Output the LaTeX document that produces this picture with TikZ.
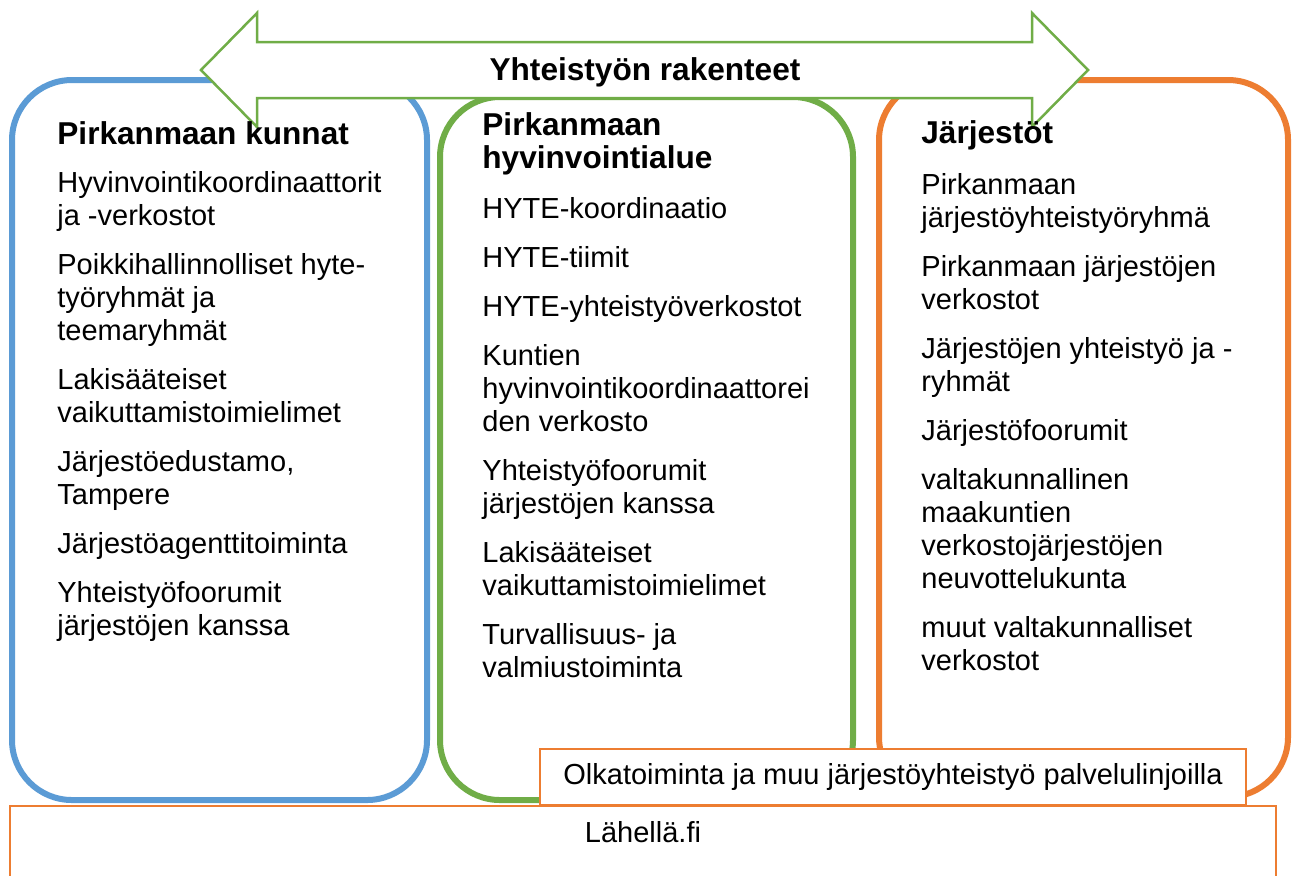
\documentclass[tikz,border=0pt]{standalone}
\usepackage{fontspec}
\setmainfont{Liberation Sans}
\usetikzlibrary{positioning}

\definecolor{kuntablue}{HTML}{5B9BD5}
\definecolor{aluegreen}{HTML}{70AD47}
\definecolor{jarjorange}{HTML}{ED7D31}
\newcommand{\colstrut}{\rule[-5pt]{0pt}{20pt}}

\begin{document}
\begin{tikzpicture}[x=0.5pt,y=-0.5pt]
\tikzstyle{every node}=[inner sep=0pt]
\tikzstyle{column}=[rounded corners=30pt, line width=3pt, fill=white]
\tikzstyle{title}=[anchor=north west, align=left, font=\fontsize{15.8}{16.5}\selectfont\bfseries]
\tikzstyle{items}=[align=left, font=\fontsize{14.5}{16.5}\selectfont]
\tikzstyle{thinbox}=[draw=jarjorange, line width=1.25pt, fill=white]

\clip (0,0) rectangle (1293,875);

% the three groups
\draw[column, draw=kuntablue] (12,80) rectangle (427,800);
\draw[column, draw=aluegreen] (440,97) rectangle (853,800);
\draw[column, draw=jarjorange] (879,80) rectangle (1288,797);

% double arrow on top
\draw[aluegreen, line width=1.25pt, fill=white] (201,70) -- (257,13) -- (257,42) -- (1032,42)
  -- (1032,13) -- (1088,70) -- (1032,127) -- (1032,98) -- (257,98) -- (257,127) -- cycle;
\node[font=\fontsize{15.8}{16.5}\selectfont\bfseries] (rakenteet) at (645,72) {Yhteistyön rakenteet};

% Pirkanmaan kunnat
\node[title] (kunnat) at (57,114) {\colstrut Pirkanmaan kunnat};
\node[items,below=3.5pt of kunnat.south west,anchor=north west] (kunnatlist) {\colstrut Hyvinvointikoordinaattorit\\ ja -verkostot\\[8pt]
  Poikkihallinnolliset hyte-\\ työryhmät ja\\ teemaryhmät\\[8pt]
  Lakisääteiset\\ vaikuttamistoimielimet\\[8pt]
  Järjestöedustamo,\\ Tampere\\[8pt]
  Järjestöagenttitoiminta\\[8pt]
  Yhteistyöfoorumit\\ järjestöjen kanssa};

% Pirkanmaan hyvinvointialue
\node[title] (alue) at (482,105) {\colstrut Pirkanmaan\\ hyvinvointialue};
\node[items,below=6.5pt of alue.south west,anchor=north west] (aluelist) {\colstrut HYTE-koordinaatio\\[8pt]
  HYTE-tiimit\\[8pt]
  HYTE-yhteistyöverkostot\\[8pt]
  Kuntien\\ hyvinvointikoordinaattorei\\ den verkosto\\[8pt]
  Yhteistyöfoorumit\\ järjestöjen kanssa\\[8pt]
  Lakisääteiset\\ vaikuttamistoimielimet\\[8pt]
  Turvallisuus- ja\\ valmiustoiminta};

% Järjestöt
\node[title] (jarjestot) at (921,113) {\colstrut Järjestöt};
\node[items,below=5pt of jarjestot.south west,anchor=north west] (jarjlist) {\colstrut Pirkanmaan\\ järjestöyhteistyöryhmä\\[8pt]
  Pirkanmaan järjestöjen\\ verkostot\\[8pt]
  Järjestöjen yhteistyö ja -\\ ryhmät\\[8pt]
  Järjestöfoorumit\\[8pt]
  valtakunnallinen\\ maakuntien\\ verkostojärjestöjen\\ neuvottelukunta\\[8pt]
  muut valtakunnalliset\\ verkostot};

% bottom boxes
\draw[thinbox] (10,806) rectangle (1276,900);
\node[font=\fontsize{14.5}{16.5}\selectfont] (lahella) at (643,832) {Lähellä.fi};
\node[thinbox, minimum width=353pt, minimum height=28pt, font=\fontsize{14.5}{16.5}\selectfont] (olka) at (893,777)
  {Olkatoiminta ja muu järjestöyhteistyö palvelulinjoilla};
\end{tikzpicture}
\end{document}
